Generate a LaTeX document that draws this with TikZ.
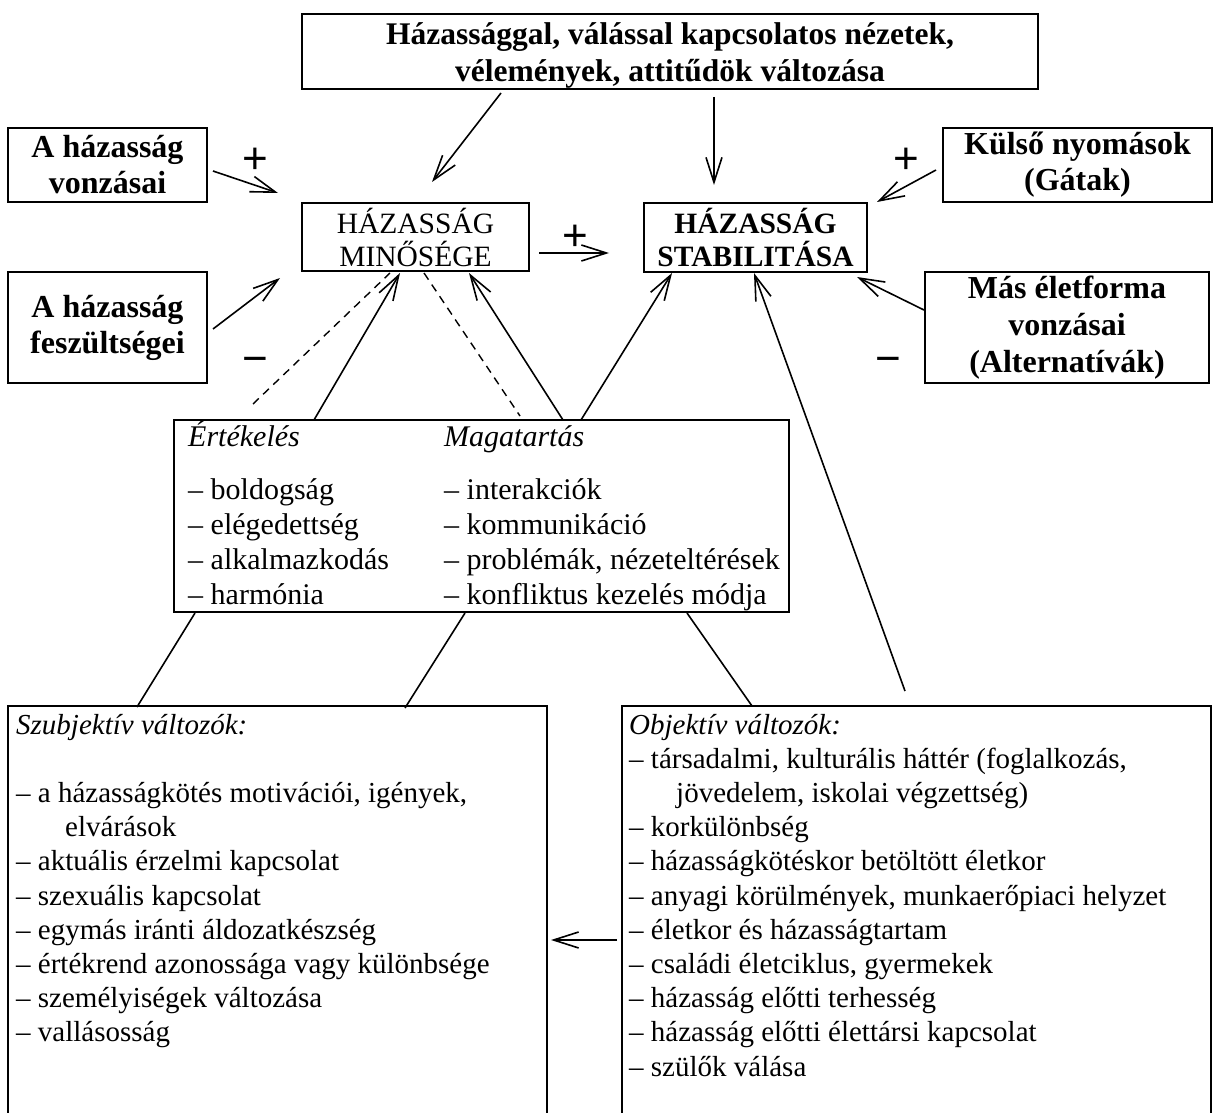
\documentclass[tikz,border=0pt]{standalone}
\usepackage{fontspec}
\setmainfont{Liberation Serif}
\newfontfamily\signfont{Liberation Sans}
\usetikzlibrary{arrows.meta}
\begin{document}
\begin{tikzpicture}[x=1pt,y=-1pt,
  box/.style={draw,line width=2.5pt,inner sep=0pt,outer sep=0pt},
  bbox/.style={box,font=\fontsize{32}{36}\selectfont\bfseries,align=center},
  conn/.style={line width=1.6pt,-{Straight Barb[length=25pt,width=16pt]}},
  plainline/.style={line width=1.6pt},
  dashline/.style={line width=1.4pt,dash pattern=on 8pt off 6pt},
  sign/.style={font=\signfont\fontsize{44}{44}\selectfont,inner sep=0pt},
  midtxt/.style={inner sep=0pt,align=left,anchor=north west,font=\fontsize{30}{35}\selectfont},
  bottxt/.style={inner sep=0pt,align=left,anchor=north west,font=\fontsize{29}{34.2}\selectfont}
]
\useasboundingbox (0,0) rectangle (1219,1113);
\clip (0,0) rectangle (1219,1113);

% boxes
\node[box,minimum width=736pt,minimum height=75pt] (top) at (670,51.5) {};
\node[align=center,inner sep=0pt,font=\fontsize{31.5}{37}\selectfont\bfseries] (toptxt) at (670,55)
  {Házassággal, válással kapcsolatos nézetek,\\vélemények, attitűdök változása};
\node[bbox,minimum width=199pt,minimum height=74pt] (vonz) at (107.5,165) {A házasság\\vonzásai};
\node[bbox,minimum width=199pt,minimum height=111pt] (fesz) at (107.5,327.5) {A házasság\\feszültségei};
\node[box,minimum width=227pt,minimum height=68pt,align=center,
  font=\fontsize{29.5}{33}\selectfont] (min) at (415.5,237) {HÁZASSÁG\\MINŐSÉGE};
\node[box,minimum width=223pt,minimum height=69pt,align=center,
  font=\fontsize{29.5}{33}\selectfont\bfseries] (stab) at (755.5,237.5) {HÁZASSÁG\\STABILITÁSA};
\node[bbox,minimum width=269pt,minimum height=74pt] (kulso) at (1077.5,165) {Külső nyomások\\(Gátak)};
\node[box,minimum width=284pt,minimum height=111pt,align=center,
  font=\fontsize{32}{37}\selectfont\bfseries] (mas) at (1067,327.5) {Más életforma\\vonzásai\\(Alternatívák)};

% middle box
\node[box,line width=2pt,minimum width=615pt,minimum height=192pt] (mid) at (481.5,516) {};
\node[midtxt] (ertek) at (188,421) {\vphantom{É}\textit{Értékelés}\\[18pt]– boldogság\\– elégedettség\\– alkalmazkodás\\– harmónia};
\node[midtxt] (magat) at (444,421) {\vphantom{É}\textit{Magatartás}\\[18pt]– interakciók\\– kommunikáció\\– problémák, nézeteltérések\\– konfliktus kezelés módja};

% bottom boxes
\node[box,minimum width=539pt,minimum height=440pt] (szub) at (277.5,926) {};
\node[bottxt] (szubtxt) at (16,710) {\strut\textit{Szubjektív változók:}\\[34.2pt]– a házasságkötés motivációi, igények,\\\hspace*{49pt}elvárások\\– aktuális érzelmi kapcsolat\\– szexuális kapcsolat\\– egymás iránti áldozatkészség\\– értékrend azonossága vagy különbsége\\– személyiségek változása\\– vallásosság};
\node[box,minimum width=589pt,minimum height=440pt] (obj) at (916.5,926) {};
\node[bottxt] (objtxt) at (629,710) {\strut\textit{Objektív változók:}\\– társadalmi, kulturális háttér (foglalkozás,\\\hspace*{47pt}jövedelem, iskolai végzettség)\\– korkülönbség\\– házasságkötéskor betöltött életkor\\– anyagi körülmények, munkaerőpiaci helyzet\\– életkor és házasságtartam\\– családi életciklus, gyermekek\\– házasság előtti terhesség\\– házasság előtti élettársi kapcsolat\\– szülők válása};

% signs
\node[sign] (p1) at (255,161) {+};
\node[sign] (m1) at (255,365) {−};
\node[sign] (p2) at (575,238) {+};
\node[sign] (p3) at (906,161) {+};
\node[sign] (m2) at (888,365) {−};

% connector end points
\coordinate (a1s) at (501,93);   \coordinate (a1e) at (432,182);
\coordinate (a2s) at (714,97);   \coordinate (a2e) at (714,185);
\coordinate (a3s) at (213,171);  \coordinate (a3e) at (278,193);
\coordinate (a4s) at (213,329);  \coordinate (a4e) at (280,278);
\coordinate (a5s) at (539,253);  \coordinate (a5e) at (609,253);
\coordinate (a6s) at (936,170);  \coordinate (a6e) at (877,202);
\coordinate (a7s) at (924,310);  \coordinate (a7e) at (857,277);
\coordinate (a8s) at (314,420);  \coordinate (a8e) at (400,273);
\coordinate (a9s) at (563,420);  \coordinate (a9e) at (469,273);
\coordinate (a10s) at (581,420); \coordinate (a10e) at (672,273);
\coordinate (a11s) at (905,691); \coordinate (a11e) at (754,273);
\coordinate (a12s) at (617,940); \coordinate (a12e) at (551,940);
\coordinate (d1s) at (253,404);  \coordinate (d1e) at (390,273);
\coordinate (d2s) at (424,273);  \coordinate (d2e) at (520,416);
\coordinate (l1s) at (195,613);  \coordinate (l1e) at (137,707);
\coordinate (l2s) at (465,613);  \coordinate (l2e) at (405,708);
\coordinate (l3s) at (687,613);  \coordinate (l3e) at (752,706);

\draw[conn] (a1s) -- (a1e);
\draw[conn] (a2s) -- (a2e);
\draw[conn] (a3s) -- (a3e);
\draw[conn] (a4s) -- (a4e);
\draw[conn] (a5s) -- (a5e);
\draw[conn] (a6s) -- (a6e);
\draw[conn] (a7s) -- (a7e);
\draw[conn] (a8s) -- (a8e);
\draw[conn] (a9s) -- (a9e);
\draw[conn] (a10s) -- (a10e);
\draw[conn] (a11s) -- (a11e);
\draw[conn] (a12s) -- (a12e);
\draw[dashline] (d1s) -- (d1e);
\draw[dashline] (d2s) -- (d2e);
\draw[plainline] (l1s) -- (l1e);
\draw[plainline] (l2s) -- (l2e);
\draw[plainline] (l3s) -- (l3e);
\end{tikzpicture}
\end{document}
